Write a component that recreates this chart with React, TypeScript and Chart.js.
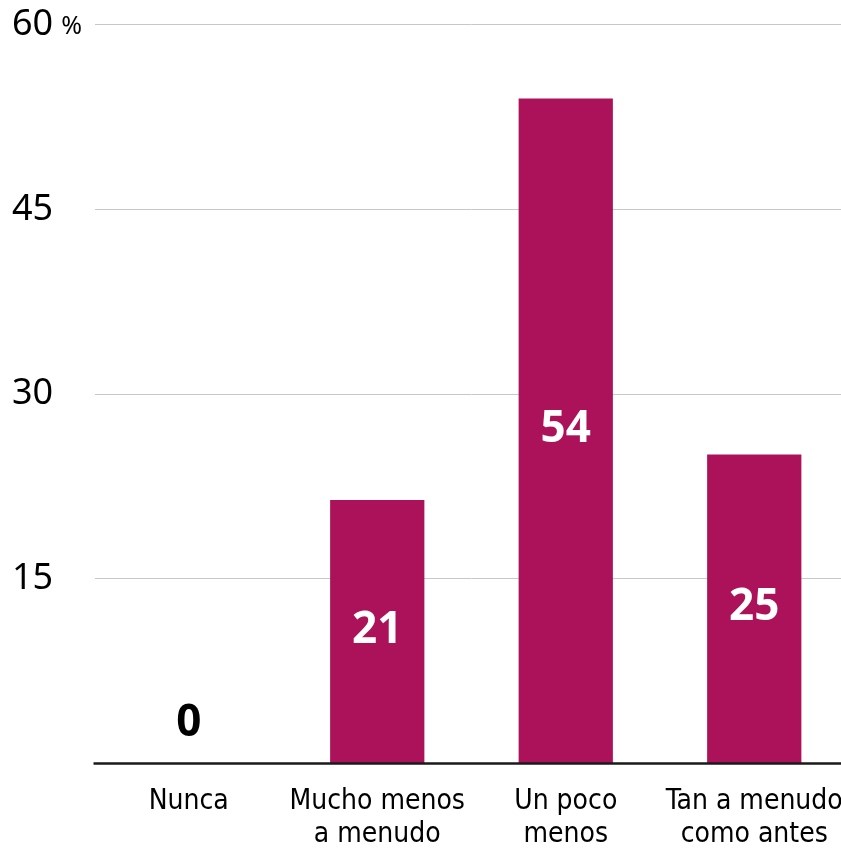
import React, { useEffect, useRef } from "react";
import { Chart, registerables } from "chart.js";

Chart.register(...registerables);

const categories: string[][] = [
  ["Nunca"],
  ["Mucho menos", "a menudo"],
  ["Un poco", "menos"],
  ["Tan a menudo", "como antes"],
];
const values: number[] = [0, 21.4, 54, 25.1];
const valueLabels: string[] = ["0", "21", "54", "25"];
const yMax = 60;
const yStep = 15;
const unitSuffix = "%";

const BAR_COLOR = "#AC1259";
const TICK_FONT = "'Noto Sans', sans-serif";
const X_FONT = "'Liberation Sans Narrow', 'DejaVu Sans Condensed', 'Noto Sans', sans-serif";

const overlay = {
  id: "overlay",
  afterDatasetsDraw(chart: any) {
    const { ctx, chartArea, scales } = chart;
    const ys = scales.y;
    const y0 = ys.getPixelForValue(0);
    ctx.save();
    // baseline
    ctx.strokeStyle = "#1a1a1a";
    ctx.lineWidth = 2.5;
    ctx.beginPath();
    ctx.moveTo(chartArea.left - 1, y0);
    ctx.lineTo(chartArea.right + 30, y0);
    ctx.stroke();

    // data labels
    const meta = chart.getDatasetMeta(0);
    ctx.font = `bold 44px ${TICK_FONT}`;
    ctx.textAlign = "center";
    ctx.textBaseline = "middle";
    meta.data.forEach((bar: any, i: number) => {
      const v = values[i];
      if (v > 0) {
        ctx.fillStyle = "#ffffff";
        ctx.fillText(valueLabels[i], bar.x, (bar.y + bar.base) / 2 - 1);
      } else {
        ctx.fillStyle = "#000000";
        ctx.fillText(valueLabels[i], bar.x, bar.base - 40);
      }
    });

    // percent sign after top tick
    ctx.font = `36px ${TICK_FONT}`;
    const w = ctx.measureText(String(yMax)).width;
    ctx.font = `25px ${TICK_FONT}`;
    ctx.fillStyle = "#000000";
    ctx.textAlign = "left";
    ctx.textBaseline = "middle";
    ctx.fillText(unitSuffix, ys.left + w + 8, ys.getPixelForValue(yMax) + 2);
    ctx.restore();
  },
};

export default function App() {
  const ref = useRef<HTMLCanvasElement>(null);
  useEffect(() => {
    if (!ref.current) return;
    const chart = new Chart(ref.current, {
      type: "bar",
      data: {
        labels: categories,
        datasets: [
          {
            data: values,
            backgroundColor: BAR_COLOR,
            barPercentage: 0.5,
            categoryPercentage: 1,
          },
        ],
      },
      options: {
        animation: false,
        responsive: false,
        devicePixelRatio: 1,
        layout: { padding: { left: 12, top: 22, right: 21.5, bottom: 0 } },
        plugins: { legend: { display: false }, tooltip: { enabled: false } },
        scales: {
          x: {
            offset: true,
            grid: { display: false, drawTicks: false },
            border: { display: false },
            ticks: {
              color: "#000",
              font: { family: X_FONT, size: 28, lineHeight: 1.2 },
              padding: 21,
              maxRotation: 0,
              autoSkip: false,
            },
            afterFit(scale: any) {
              scale.height = 84.5;
            },
          },
          y: {
            min: 0,
            max: yMax,
            grid: {
              drawTicks: false,
              color: (c: any) => (c.tick && c.tick.value === 0 ? "rgba(0,0,0,0)" : "#c8c8c8"),
              lineWidth: 1,
            },
            border: { display: false },
            ticks: {
              stepSize: yStep,
              color: "#000",
              crossAlign: "far",
              font: { family: TICK_FONT, size: 36 },
              callback: (v: any) => (v === 0 ? "" : String(v)),
            },
            afterFit(scale: any) {
              scale.width = 82.5;
            },
          },
        },
      },
      plugins: [overlay],
    } as any);
    return () => chart.destroy();
  }, []);
  return (
    <div
      style={{
        position: "absolute",
        left: 0,
        top: 0,
        width: 841,
        height: 848,
        overflow: "hidden",
        background: "#fff",
      }}
    >
      <canvas ref={ref} width={870} height={848} style={{ display: "block" }} />
    </div>
  );
}
